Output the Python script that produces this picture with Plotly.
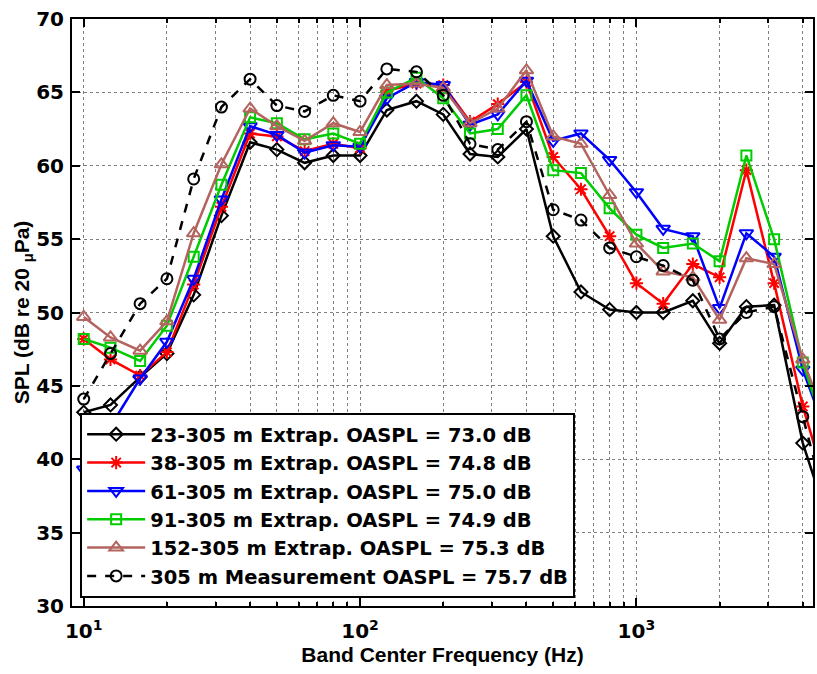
import plotly.graph_objects as go
import math

freq = [10, 12.5, 16, 20, 25, 31.5, 40, 50, 63, 80, 100, 125, 160, 200, 250, 315,
        400, 500, 630, 800, 1000, 1250, 1600, 2000, 2500, 3150, 4000, 5000]

spl_23 = [43.2, 43.7, 45.6, 47.2, 51.2, 56.6, 61.6, 61.1, 60.2, 60.7, 60.7, 63.8, 64.4,
          63.5, 60.8, 60.6, 62.5, 55.2, 51.4, 50.2, 50.0, 50.0, 50.8, 47.9, 50.4, 50.5, 41.1, 35.5]
spl_38 = [48.2, 46.8, 45.7, 47.3, 51.9, 57.2, 62.2, 62.0, 61.0, 61.5, 61.2, 65.1, 65.6,
          65.5, 63.0, 64.2, 65.7, 60.6, 58.4, 55.2, 52.0, 50.6, 53.3, 52.4, 59.7, 52.0, 43.6, 37.5]
spl_61 = [39.3, 42.2, 45.5, 48.0, 52.3, 57.7, 62.7, 62.1, 60.9, 61.4, 61.3, 64.6, 65.7,
          65.5, 62.8, 63.5, 65.8, 61.7, 62.2, 60.4, 58.2, 55.7, 55.2, 50.3, 55.4, 53.8, 46.1, 41.1]
spl_91 = [48.2, 47.6, 46.7, 49.1, 53.8, 58.7, 63.3, 62.9, 61.8, 62.2, 61.5, 65.0, 66.0,
          64.6, 62.2, 62.5, 64.8, 59.7, 59.5, 57.1, 55.3, 54.4, 54.7, 53.5, 60.7, 55.0, 46.6, 41.0]
spl_152 = [49.7, 48.3, 47.4, 49.4, 55.4, 60.1, 63.9, 62.7, 61.7, 62.9, 62.3, 65.5, 65.6,
           65.3, 62.9, 63.9, 66.5, 62.0, 61.5, 58.0, 54.7, 52.8, 52.4, 49.5, 53.7, 53.3, 46.8, 42.0]
spl_305 = [44.1, 47.2, 50.6, 52.3, 59.1, 64.0, 65.9, 64.1, 63.7, 64.8, 64.4, 66.6, 66.4,
           64.8, 61.5, 61.1, 63.0, 57.0, 56.3, 54.4, 53.8, 53.2, 52.2, 48.2, 50.0, 50.4, 42.9, 36.0]

names = [
    "23-305 m Extrap. OASPL = 73.0 dB",
    "38-305 m Extrap. OASPL = 74.8 dB",
    "61-305 m Extrap. OASPL = 75.0 dB",
    "91-305 m Extrap. OASPL = 74.9 dB",
    "152-305 m Extrap. OASPL = 75.3 dB",
    "305 m Measurement OASPL = 75.7 dB",
]
series = [spl_23, spl_38, spl_61, spl_91, spl_152, spl_305]
colors = ["#000000", "#FF0000", "#0000FF", "#00CC00", "#B4645F", "#000000"]
symbols = ["diamond-open", "asterisk-open", "triangle-down-open", "square-open",
           "triangle-up-open", "circle-open"]
sizes = [10, 11, 12, 10, 12, 11]
dashes = ["solid", "solid", "solid", "solid", "solid", "dash"]

major_ticks = [10, 100, 1000]
tick_text = ["10<sup>1</sup>", "10<sup>2</sup>", "10<sup>3</sup>"]
minor_ticks = [20, 30, 40, 50, 60, 70, 80, 90, 200, 300, 400, 500, 600, 700, 800, 900,
               2000, 3000, 4000]

fig = go.Figure()
for nm, ys, c, s, sz, d in zip(names, series, colors, symbols, sizes, dashes):
    fig.add_trace(go.Scatter(
        x=freq, y=ys, name=nm, mode="lines+markers",
        line=dict(color=c, width=2.5, dash=d),
        marker=dict(symbol=s, size=sz, color=c, line=dict(color=c, width=2)),
        cliponaxis=True,
    ))

tickfont = dict(family="DejaVu Sans", size=20, color="black", weight="bold")
titlefont = dict(family="Liberation Sans", size=21, color="black", weight="bold")

fig.update_layout(
    width=817, height=674,
    margin=dict(l=72, r=2, t=19, b=68),
    paper_bgcolor="white", plot_bgcolor="white",
    showlegend=True,
    legend=dict(
        x=0.011, y=0.0136, xanchor="left", yanchor="bottom",
        bgcolor="white", bordercolor="black", borderwidth=2,
        font=dict(family="DejaVu Sans", size=19.5, color="black", weight="bold"),
        itemwidth=58, tracegroupgap=0,
    ),
)

fig.update_xaxes(
    type="log", range=[math.log10(9.07), 3.639],
    tickvals=major_ticks, ticktext=tick_text,
    ticks="inside", ticklen=8, tickwidth=2, tickcolor="black",
    showline=True, linecolor="black", linewidth=2, mirror="ticks",
    showgrid=True, gridcolor="#7f7f7f", griddash="dot", gridwidth=1,
    minor=dict(tickvals=minor_ticks, ticks="inside", ticklen=4, tickwidth=1.5,
               tickcolor="black", showgrid=True, gridcolor="#7f7f7f",
               griddash="dot", gridwidth=1),
    tickfont=tickfont, ticklabelstandoff=6,
    title=dict(text="Band Center Frequency (Hz)", font=titlefont, standoff=4),
    zeroline=False,
)
fig.update_yaxes(
    range=[30, 70], tickvals=[30, 35, 40, 45, 50, 55, 60, 65, 70],
    ticks="inside", ticklen=8, tickwidth=2, tickcolor="black",
    showline=True, linecolor="black", linewidth=2, mirror="ticks",
    showgrid=True, gridcolor="#7f7f7f", griddash="dot", gridwidth=1,
    tickfont=tickfont, ticklabelstandoff=2,
    title=dict(text="SPL (dB re 20 <sub>μ</sub>Pa)", font=titlefont, standoff=0),
    zeroline=False,
)

fig.write_html("out.html")
